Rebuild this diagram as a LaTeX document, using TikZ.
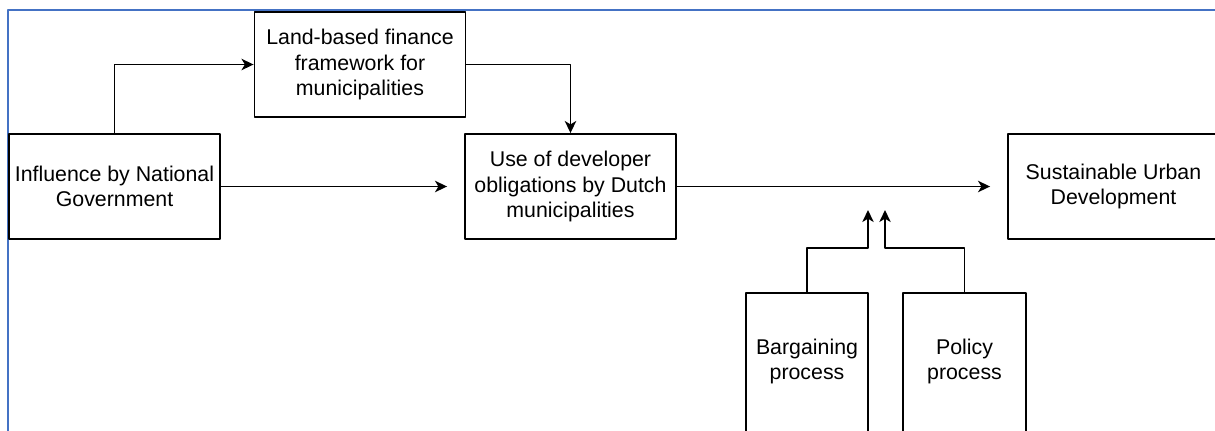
\documentclass[tikz,border=0pt]{standalone}
\usepackage{fontspec}
\setmainfont{Liberation Sans}
\usepackage{xcolor}
\usetikzlibrary{arrows.meta}
\definecolor{frameblue}{RGB}{68,114,196}

\begin{document}
\begin{tikzpicture}[line cap=round,line join=round,x=0.75pt,y=-0.75pt,
	box/.style={draw, line width=1.4pt, align=center, inner sep=2pt, minimum width=158.25pt, minimum height=78.75pt, font=\fontsize{16}{19}\selectfont},
	procbox/.style={box, anchor=north, minimum height=135pt, text depth=36pt},
	link/.style={line width=1.4pt, -{Stealth[length=9pt,width=8.5pt,inset=2.5pt]}}]
	\clip (0,0) rectangle (1215,430);
	\fill [white] (0,0) rectangle (1215,430);
	\draw [line width=1.6pt, frameblue] (8,440) -- (8,10) -- (1225,10);
	\node[box] (infl) at (114.5,186.5) {Influence by National\\Government};
	\node[box] (land) at (360,64.5) {Land-based finance\\framework for\\municipalities};
	\node[box] (use) at (570.5,186.5) {Use of developer\\obligations by Dutch\\municipalities};
	\node[box] (sud) at (1113.5,186.5) {Sustainable Urban\\Development};
	\node[procbox, minimum width=91.5pt] (barg) at (807,292) {Bargaining\\process};
	\node[procbox, minimum width=92.25pt] (pol) at (964.5,292) {Policy\\process};
	\coordinate (bargtip) at (868,210);
	\coordinate (poltip) at (885,210);
	\draw [link] (infl.north) |- (land.west);
	\draw [link] (land.east) -| (use.north);
	\draw [link, shorten >=12.75pt] (infl.east) -- (use.west);
	\draw [link, shorten >=12.75pt] (use.east) -- (sud.west);
	\draw [link] (barg.north) -- ++(0,-44) -| (bargtip);
	\draw [link] (pol.north) -- ++(0,-44) -| (poltip);
\end{tikzpicture}
\end{document}
